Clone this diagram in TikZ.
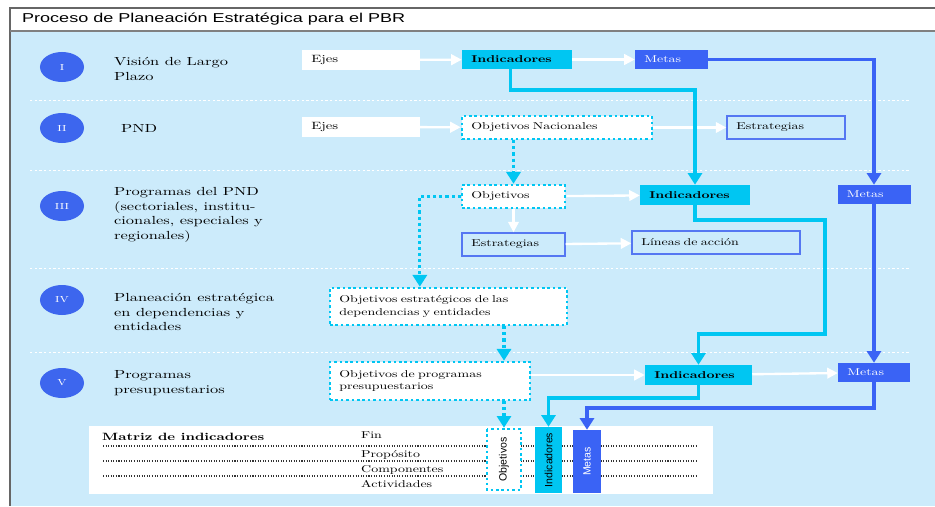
\documentclass[tikz,border=0pt]{standalone}
\usepackage{fontspec}
\setmainfont{lmroman10-regular.otf}[BoldFont=lmroman10-bold.otf, FakeStretch=1.4]
\newfontfamily\titlefont{Liberation Sans}[FakeStretch=1.4]
\newfontfamily\vertfont{Liberation Sans}
\usepackage{tikz}
\usetikzlibrary{shapes.geometric,arrows.meta}

\definecolor{panel}{HTML}{CCEBFB}
\definecolor{cyanbox}{HTML}{00C6F2}
\definecolor{bluebox}{HTML}{3A63F5}
\definecolor{circblue}{HTML}{3D66EE}
\definecolor{estrblue}{HTML}{5577F2}

\begin{document}
\begin{tikzpicture}[x=0.03cm,y=-0.03cm,
    lbl/.style={anchor=west,align=left,font=\fontsize{10}{12.5}\selectfont},
    num/.style={ellipse,fill=circblue,text=white,minimum width=1.32cm,
      minimum height=0.9cm,font=\fontsize{7.5}{8}\selectfont},
    box/.style={inner xsep=0.28cm,inner ysep=1pt,align=left,
      font=\fontsize{8.5}{10.5}\selectfont},
    plain/.style={box,fill=white,font=\fontsize{9}{10.5}\selectfont},
    ind/.style={box,fill=cyanbox,font=\bfseries\fontsize{8.5}{10}\selectfont},
    meta/.style={box,fill=bluebox,text=white},
    dots/.style={box,fill=white,draw=cyanbox,line width=2.2pt,
      dash pattern=on 2.2pt off 2.4pt},
    outl/.style={box,draw=estrblue,line width=1.2pt},
    warrow/.style={-{Triangle[length=9pt,width=9pt]},white,line width=2pt},
    cline/.style={-{Triangle[length=10pt,width=12pt]},cyanbox,line width=3pt},
    bline/.style={-{Triangle[length=10pt,width=12pt]},bluebox,line width=3pt},
    dline/.style={-{Triangle[length=10pt,width=12pt]},cyanbox,line width=2.6pt,
      dash pattern=on 2.6pt off 2.6pt},
    sep/.style={white,line width=0.8pt,dash pattern=on 2pt off 2pt}]

  \useasboundingbox (0,0) rectangle (935,506);
  \fill[white] (0,0) rectangle (935,506);
  \fill[panel] (10,31) rectangle (935,506);
  \draw[gray!80!black,line width=1pt] (935,8) -- (10,8) -- (10,506);
  \draw[gray,line width=1.2pt] (10,31) -- (935,31);
  \node[anchor=west,font=\titlefont\fontsize{11}{12}\selectfont] (title) at (18,19)
    {Proceso de Planeación Estratégica para el PBR};

  \foreach \y in {100,170,268,352}
    \draw[sep] (30,\y) -- (910,\y);

  \node[num] (n1) at (62,67)  {I};
  \node[num] (n2) at (62,128) {II};
  \node[num] (n3) at (62,206) {III};
  \node[num] (n4) at (62,300) {IV};
  \node[num] (n5) at (62,383) {V};

  \node[lbl] (l1) at (110,69)  {Visión de Largo\\Plazo};
  \node[lbl] (l2) at (117,128) {PND};
  \node[lbl] (l3) at (110,215) {Programas del PND\\(sectoriales, institu-\\cionales, especiales y\\regionales)};
  \node[lbl] (l4) at (110,312) {Planeación estratégica\\en dependencias y\\entidades};
  \node[lbl] (l5) at (110,383) {Programas\\presupuestarios};

  \node[plain,text width=2.98cm,minimum height=0.6cm]  (ejes1)  at (361,60)    {Ejes};
  \node[ind,text width=2.74cm,minimum height=0.57cm]   (ind1)   at (517,59.5)  {Indicadores};
  \node[meta,text width=1.63cm,minimum height=0.57cm]  (metas1) at (671.5,59.5) {Metas};

  \node[plain,text width=2.98cm,minimum height=0.6cm]  (ejes2)  at (361,127)   {Ejes};
  \node[dots,text width=5.14cm,minimum height=0.69cm]  (objnac) at (557,127.5) {Objetivos Nacionales};
  \node[outl,text width=2.98cm,minimum height=0.69cm]  (estr2)  at (786,127.5) {Estrategias};

  \node[dots,text width=2.53cm,minimum height=0.69cm]  (obj3)   at (513.5,196.5) {Objetivos};
  \node[ind,text width=2.74cm,minimum height=0.6cm]    (ind3)   at (695,195)   {Indicadores};
  \node[meta,text width=1.63cm,minimum height=0.57cm]  (metas3) at (874,194.5) {Metas};
  \node[outl,text width=2.53cm,minimum height=0.69cm]  (estr3)  at (513.5,244.5) {Estrategias};
  \node[outl,text width=4.48cm,minimum height=0.69cm]  (lineas) at (716,242.5) {Líneas de acción};

  \node[dots,text width=6.55cm,minimum height=1.11cm]  (objest) at (448.5,306.5)
    {Objetivos estratégicos de las\\dependencias y entidades};

  \node[dots,text width=5.44cm,minimum height=1.14cm]  (objprog) at (430,381)
    {Objetivos de programas\\presupuestarios};
  \node[ind,text width=2.65cm,minimum height=0.6cm]    (ind5)   at (698.5,375) {Indicadores};
  \node[meta,text width=1.60cm,minimum height=0.57cm]  (metas5) at (874,372.5) {Metas};

  \fill[white] (89,426) rectangle (713,494);
  \node[anchor=west,font=\bfseries\fontsize{9}{10}\selectfont] (mat) at (98,437) {Matriz de indicadores};
  \node[anchor=west,box,inner xsep=0pt] (fin)  at (361,435) {Fin};
  \node[anchor=west,box,inner xsep=0pt] (prop) at (361,455) {Propósito};
  \node[anchor=west,box,inner xsep=0pt] (comp) at (361,470) {Componentes};
  \node[anchor=west,box,inner xsep=0pt] (act)  at (361,484) {Actividades};
  \foreach \y in {446,461,476}
    \draw[black!80,line width=0.9pt,dash pattern=on 0.9pt off 1.3pt] (103,\y) -- (697,\y);

  \node[dots,rotate=90,minimum width=1.83cm,minimum height=1.02cm,inner xsep=0pt,
    align=center,font=\vertfont\fontsize{9}{10}\selectfont] (objv) at (504,459.5) {Objetivos};
  \node[box,fill=cyanbox,rotate=90,minimum width=1.98cm,minimum height=0.81cm,inner xsep=0pt,
    align=center,font=\vertfont\fontsize{9}{10}\selectfont] (indv) at (548.5,460) {Indicadores};
  \node[box,fill=bluebox,text=white,rotate=90,minimum width=1.89cm,minimum height=0.84cm,inner xsep=0pt,
    align=center,font=\vertfont\fontsize{9}{10}\selectfont] (metasv) at (587,461.5) {Metas};

  \draw[warrow] (ejes1) -- (ind1);
  \draw[warrow] (ind1) -- (metas1);
  \draw[warrow] (ejes2) -- (objnac);
  \draw[warrow] (objnac) -- (estr2);
  \draw[warrow] (obj3) -- (ind3);
  \draw[warrow] (obj3) -- (estr3);
  \draw[warrow] (estr3) -- (lineas);
  \draw[warrow] (objprog.east |- ind5) -- (ind5);
  \draw[warrow] (ind5) -- (metas5);

  \draw[cline] ([xshift=-0.2cm]ind1.south) -- ++(0,21) -| (ind3.north);
  \draw[bline] (metas1.east) -| (metas3.north);
  \coordinate (c1) at (825,334);
  \draw[cline] (ind3.south) -- ++(0,15) -| (c1) -| (ind5.north);
  \draw[bline] (metas3.south) -- (metas5.north);
  \draw[cline] (ind5.south) -- ++(0,13) -| (indv.east);
  \draw[bline] (metas5.south) -- ++(0,26) -| (metasv.east);

  \draw[dline] (objnac.south -| obj3.north) -- (obj3.north);
  \draw[dline] (obj3.west) -| ([xshift=-0.86cm]objest.north);
  \draw[dline] (objest.south -| objv.east) -- (objprog.north -| objv.east);
  \draw[dline] (objprog.south -| objv.east) -- (objv.east);
\end{tikzpicture}
\end{document}
